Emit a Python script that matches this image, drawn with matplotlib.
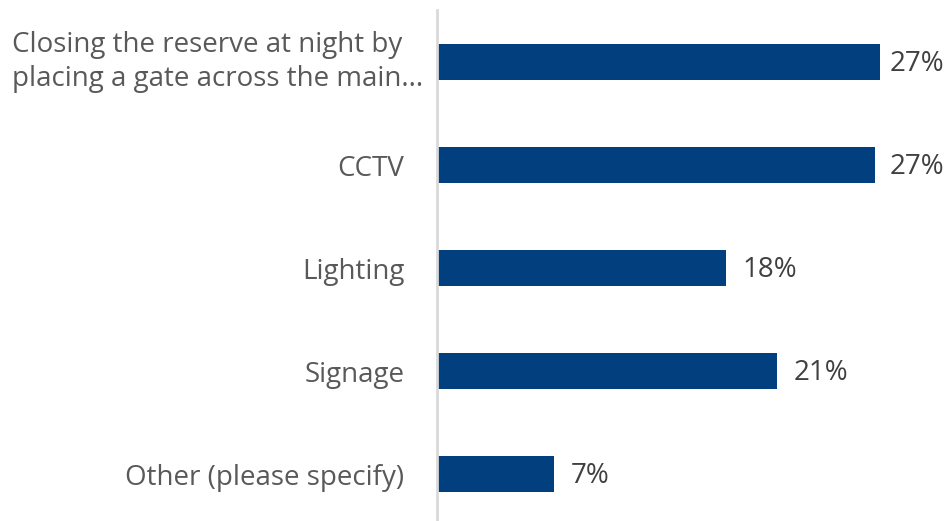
import matplotlib.pyplot as plt
from matplotlib.transforms import blended_transform_factory

categories = ["Closing the reserve at night by\nplacing a gate across the main...",
              "CCTV", "Lighting", "Signage", "Other (please specify)"]
values = [27.0, 26.7, 17.6, 20.7, 7.1]
value_labels = ["27%", "27%", "18%", "21%", "7%"]

plt.rcParams['font.family'] = ['Open Sans', 'DejaVu Sans']

fig = plt.figure(figsize=(9.5, 5.21), dpi=100)
ax = fig.add_axes([437 / 950, 0, 503 / 950, 511 / 521])

pos = list(range(len(categories)))
ax.barh(pos, values, height=0.35, color="#013f7f")
# labels sit just past the bar, but are pushed back in when near the right edge
for p, v, lab in zip(pos, values, value_labels):
    ax.text(min(v + 1.04, 27.6), p + 0.02, lab, va="center", ha="left",
            fontsize=20, color="#404040")

ax.set_xlim(0, 30.65)
ax.set_ylim(4.456, -0.505)
ax.set_yticks(pos)
# the wrapped label is left aligned from the figure edge, like the original
ax.set_yticklabels([""] + categories[1:], fontsize=20, color="#595959")
trans = blended_transform_factory(fig.transFigure, ax.transData)
ax.text(12 / 950, pos[0], categories[0], transform=trans, ha="left", va="center",
        multialignment="left", fontsize=20, color="#595959", linespacing=1.3)
ax.tick_params(axis="y", length=0, pad=23.5)
ax.set_xticks([])
for s in ["top", "right", "bottom"]:
    ax.spines[s].set_visible(False)
ax.spines["left"].set_color("#d9d9d9")
ax.spines["left"].set_linewidth(2)

fig.savefig("out.png", dpi=100)
